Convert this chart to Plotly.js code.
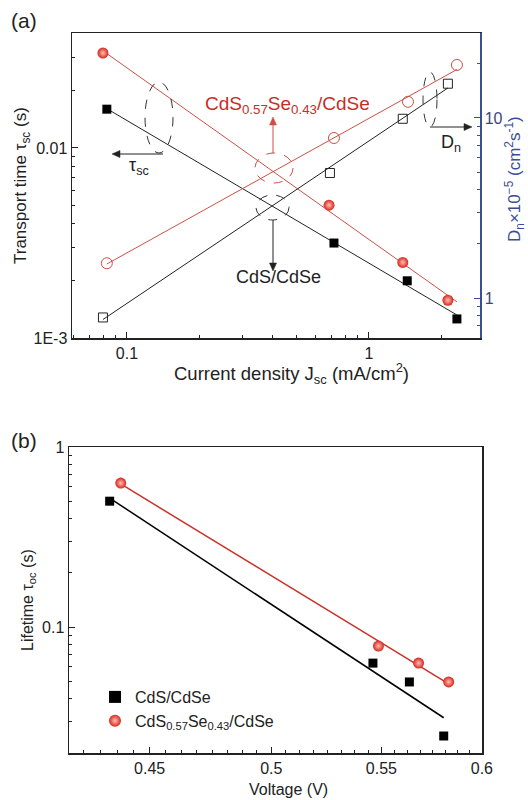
<!DOCTYPE html>
<html><head><meta charset="utf-8">
<script src="https://cdn.plot.ly/plotly-3.0.1.min.js"></script>
<style>body{margin:0;background:#fff;} #chart{width:528px;height:800px;}</style>
</head><body><div id="chart"></div>
<script>
// ---- Panel (a): transport time and diffusion coefficient vs current density ----
const jscTauCdS   = [0.0826, 0.717, 1.44, 2.31];
const tauScCdS    = [0.016, 0.00316, 0.0020, 0.00126];
const jscTauCdSSe = [0.0796, 0.684, 1.38, 2.12];
const tauScCdSSe  = [0.0316, 0.0050, 0.0025, 0.00158];
const jscDnCdS    = [0.0796, 0.690, 1.38, 2.12];
const dnCdS       = [0.78, 4.95, 9.9, 15.5];
const jscDnCdSSe  = [0.0826, 0.717, 1.45, 2.31];
const dnCdSSe     = [1.56, 7.74, 12.3, 19.7];
// ---- Panel (b): lifetime vs open-circuit voltage ----
const vocCdS      = [0.4347, 0.546, 0.5635, 0.5805];
const tauOcCdS    = [0.50, 0.063, 0.0495, 0.0248];
const vocCdSSe    = [0.4389, 0.5486, 0.568, 0.583];
const tauOcCdSSe  = [0.63, 0.0784, 0.063, 0.0495];
// tick labels
const xTicksA = [0.1, 1], xTickTextA = ['0.1', '1'];
const yTicksA = [0.001, 0.01], yTickTextA = ['1E-3', '0.01'];
const y2TicksA = [1, 10], y2TickTextA = ['1', '10'];
const xTicksB = [0.45, 0.5, 0.55, 0.6], xTickTextB = ['0.45', '0.5', '0.55', '0.6'];
const yTicksB = [0.1, 1], yTickTextB = ['0.1', '1'];
const nameCdS = 'CdS/CdSe';
const nameCdSSe = 'CdS<sub>0.57</sub>Se<sub>0.43</sub>/CdSe';

// least-squares fit in log-log space, returns line over [x0,x1]
function logFit(xs, ys, x0, x1) {
  const lx = xs.map(Math.log10), ly = ys.map(Math.log10);
  const n = lx.length;
  const mx = lx.reduce((a,b)=>a+b,0)/n, my = ly.reduce((a,b)=>a+b,0)/n;
  let sxy=0, sxx=0;
  for (let i=0;i<n;i++){ sxy += (lx[i]-mx)*(ly[i]-my); sxx += (lx[i]-mx)**2; }
  const k = sxy/sxx, b = my - k*mx;
  const a0 = x0 ?? Math.min(...xs), a1 = x1 ?? Math.max(...xs);
  return {x:[a0,a1], y:[a0,a1].map(v=>Math.pow(10, b + k*Math.log10(v)))};
}
function minorLog(lo, hi){ const out=[]; for(let e=lo;e<hi;e++){ for(let m=2;m<=9;m++) out.push(m*Math.pow(10,e)); } return out; }
function minorLin(lo, hi, step){ const out=[]; for(let v=lo; v<=hi+1e-9; v+=step) out.push(+v.toFixed(5)); return out; }

const RED = 'rgb(214,38,28)';
const REDLINE = 'rgb(205,80,70)';
const BLUE = 'rgb(58,78,150)';
const FONT = 'Liberation Sans, Arial, sans-serif';

const ball = {symbol:'circle', size:11, color:RED, gradient:{type:'radial', color:'rgb(255,190,180)'}, line:{width:0}};

const traces = [];
let f;
f = logFit(jscTauCdS, tauScCdS);
traces.push({x:f.x, y:f.y, mode:'lines', line:{color:'#222', width:1}, xaxis:'x', yaxis:'y', showlegend:false, hoverinfo:'skip'});
f = logFit(jscTauCdSSe, tauScCdSSe, Math.min(...jscTauCdSSe), Math.max(...jscTauCdS));
traces.push({x:f.x, y:f.y, mode:'lines', line:{color:REDLINE, width:1}, xaxis:'x', yaxis:'y', showlegend:false, hoverinfo:'skip'});
f = logFit(jscDnCdS, dnCdS);
traces.push({x:f.x, y:f.y, mode:'lines', line:{color:'#222', width:1}, xaxis:'x', yaxis:'y2', showlegend:false, hoverinfo:'skip'});
f = logFit(jscDnCdSSe, dnCdSSe);
traces.push({x:f.x, y:f.y, mode:'lines', line:{color:REDLINE, width:1}, xaxis:'x', yaxis:'y2', showlegend:false, hoverinfo:'skip'});
traces.push({x:jscTauCdS, y:tauScCdS, mode:'markers', marker:{symbol:'square', size:9, color:'#000'}, xaxis:'x', yaxis:'y', showlegend:false});
traces.push({x:jscTauCdSSe, y:tauScCdSSe, mode:'markers', marker:ball, xaxis:'x', yaxis:'y', showlegend:false});
traces.push({x:jscDnCdS, y:dnCdS, mode:'markers', marker:{symbol:'square-open', size:9, color:'#222', line:{width:1}}, xaxis:'x', yaxis:'y2', showlegend:false});
traces.push({x:jscDnCdSSe, y:dnCdSSe, mode:'markers', marker:{symbol:'circle-open', size:11, color:REDLINE, line:{width:1}}, xaxis:'x', yaxis:'y2', showlegend:false});
f = logFit(vocCdS, tauOcCdS);
traces.push({x:f.x, y:f.y, mode:'lines', line:{color:'#000', width:1.5}, xaxis:'x2', yaxis:'y3', showlegend:false, hoverinfo:'skip'});
f = logFit(vocCdSSe, tauOcCdSSe);
traces.push({x:f.x, y:f.y, mode:'lines', line:{color:'rgb(200,50,40)', width:1.5}, xaxis:'x2', yaxis:'y3', showlegend:false, hoverinfo:'skip'});
traces.push({x:vocCdS, y:tauOcCdS, mode:'markers', name:nameCdS, marker:{symbol:'square', size:9, color:'#000'}, xaxis:'x2', yaxis:'y3'});
traces.push({x:vocCdSSe, y:tauOcCdSSe, mode:'markers', name:nameCdSSe, marker:ball, xaxis:'x2', yaxis:'y3'});

const W=528, H=800;
const px = v => v/W, py = v => 1 - v/H;

const axBase = {type:'log', showgrid:false, zeroline:false, showline:true, linecolor:'#222', linewidth:1.5,
  ticks:'inside', ticklen:6, tickwidth:1, tickcolor:'#222', tickmode:'array',
  tickfont:{family:FONT, size:16, color:'#222'}};

function txt(text, x, y, size, color, angle) {
  return {text, xref:'paper', yref:'paper', x:px(x), y:py(y), xanchor:'center', yanchor:'middle',
    showarrow:false, textangle:angle||0, font:{family:FONT, size, color}};
}
// arrow drawn as a line shape plus a filled triangular head (pixel geometry -> paper coords)
function arrowShapes(x0, y0, x1, y1, color) {
  const dx = x1-x0, dy = y1-y0, L = Math.hypot(dx,dy), ux = dx/L, uy = dy/L;
  const hl = 8, hw = 3.5;
  const bx = x1 - ux*hl, by = y1 - uy*hl;
  const p1 = [bx - uy*hw, by + ux*hw], p2 = [bx + uy*hw, by - ux*hw];
  return [
    {type:'line', xref:'paper', yref:'paper', x0:px(x0), y0:py(y0), x1:px(bx), y1:py(by), line:{color, width:1}},
    {type:'path', xref:'paper', yref:'paper',
     path:`M ${px(x1)} ${py(y1)} L ${px(p1[0])} ${py(p1[1])} L ${px(p2[0])} ${py(p2[1])} Z`,
     fillcolor:color, line:{color, width:0.5}}
  ];
}

const layout = {
  width:W, height:H, margin:{l:0,r:0,t:0,b:0}, paper_bgcolor:'#fff', plot_bgcolor:'#fff',
  font:{family:FONT, color:'#222'},
  xaxis: Object.assign({}, axBase, {domain:[px(72), px(480)], anchor:'y', range:[-1.227, 0.459],
    tickvals:xTicksA, ticktext:xTickTextA, mirror:true,
    minor:{tickmode:'array', tickvals:minorLog(-2,1), ticks:'inside', ticklen:3, tickcolor:'#222', showgrid:false}}),
  yaxis: Object.assign({}, axBase, {domain:[py(338), py(33)], anchor:'x', range:[-3, -1.395],
    tickvals:yTicksA, ticktext:yTickTextA, mirror:false,
    minor:{tickmode:'array', tickvals:minorLog(-3,-1), ticks:'inside', ticklen:3, tickcolor:'#222', showgrid:false}}),
  yaxis2: Object.assign({}, axBase, {overlaying:'y', side:'right', anchor:'x', range:[-0.222, 1.472],
    tickvals:y2TicksA, ticktext:y2TickTextA, linecolor:BLUE, tickcolor:BLUE,
    tickfont:{family:FONT, size:16, color:'rgb(60,70,120)'},
    minor:{tickmode:'array', tickvals:minorLog(-1,2), ticks:'inside', ticklen:3, tickcolor:BLUE, showgrid:false}}),
  xaxis2: Object.assign({}, axBase, {domain:[px(69), px(482)], anchor:'y3', range:[-0.3771, -0.2218],
    tickvals:xTicksB, ticktext:xTickTextB, mirror:true,
    minor:{tickmode:'array', tickvals:minorLin(0.41875, 0.6, 0.00625), ticks:'inside', ticklen:3, tickcolor:'#222', showgrid:false}}),
  yaxis3: Object.assign({}, axBase, {domain:[py(753), py(447)], anchor:'x2', range:[-1.7, 0],
    tickvals:yTicksB, ticktext:yTickTextB, mirror:true,
    minor:{tickmode:'array', tickvals:minorLog(-2,0), ticks:'inside', ticklen:3, tickcolor:'#222', showgrid:false}}),
  showlegend:true,
  legend:{x:px(95), y:py(680), xanchor:'left', yanchor:'top', bgcolor:'rgba(0,0,0,0)',
    font:{family:FONT, size:16, color:'#222'}, tracegroupgap:0, itemsizing:'constant'},
  shapes:[
    {type:'circle', xref:'paper', yref:'paper', x0:px(145), x1:px(173), y0:py(153), y1:py(82), line:{color:'#333', width:1, dash:'dash'}},
    {type:'circle', xref:'paper', yref:'paper', x0:px(255), x1:px(293), y0:py(183), y1:py(153), line:{color:REDLINE, width:1, dash:'dash'}},
    {type:'circle', xref:'paper', yref:'paper', x0:px(256), x1:px(289), y0:py(220), y1:py(195), line:{color:'#333', width:1, dash:'dash'}},
    {type:'circle', xref:'paper', yref:'paper', x0:px(423), x1:px(437), y0:py(127), y1:py(72), line:{color:'#333', width:1, dash:'dash'}},
    ...arrowShapes(163, 154, 112, 154, '#222'),
    ...arrowShapes(273, 153, 273, 117, REDLINE),
    ...arrowShapes(273, 220, 273, 271, '#222'),
    ...arrowShapes(430, 127, 472, 127, '#222')
  ],
  annotations:[
    txt('(a)', 24, 20, 21, '#222'),
    txt('(b)', 24, 440, 21, '#222'),
    txt('Transport time τ<sub>sc</sub> (s)', 22, 186, 17, '#222', -90),
    txt('D<sub>n</sub>×10<sup>−5</sup> (cm<sup>2</sup>s<sup>-1</sup>)', 514, 179, 17, BLUE, -90),
    txt('Current density J<sub>sc</sub> (mA/cm<sup>2</sup>)', 291, 373, 18.5, '#222'),
    txt('Lifetime τ<sub>oc</sub> (s)', 28, 600, 16, '#222', -90),
    txt('Voltage (V)', 288, 789, 16, '#222'),
    txt('CdS<sub>0.57</sub>Se<sub>0.43</sub>/CdSe', 287, 105, 19, 'rgb(200,45,40)'),
    txt('CdS/CdSe', 278, 277, 18, '#222'),
    txt('τ<sub>sc</sub>', 139, 166, 18, '#222'),
    txt('D<sub>n</sub>', 451, 144, 18, '#222')
  ]
};

Plotly.newPlot('chart', traces, layout, {staticPlot:true, displayModeBar:false});
</script>
</body></html>
